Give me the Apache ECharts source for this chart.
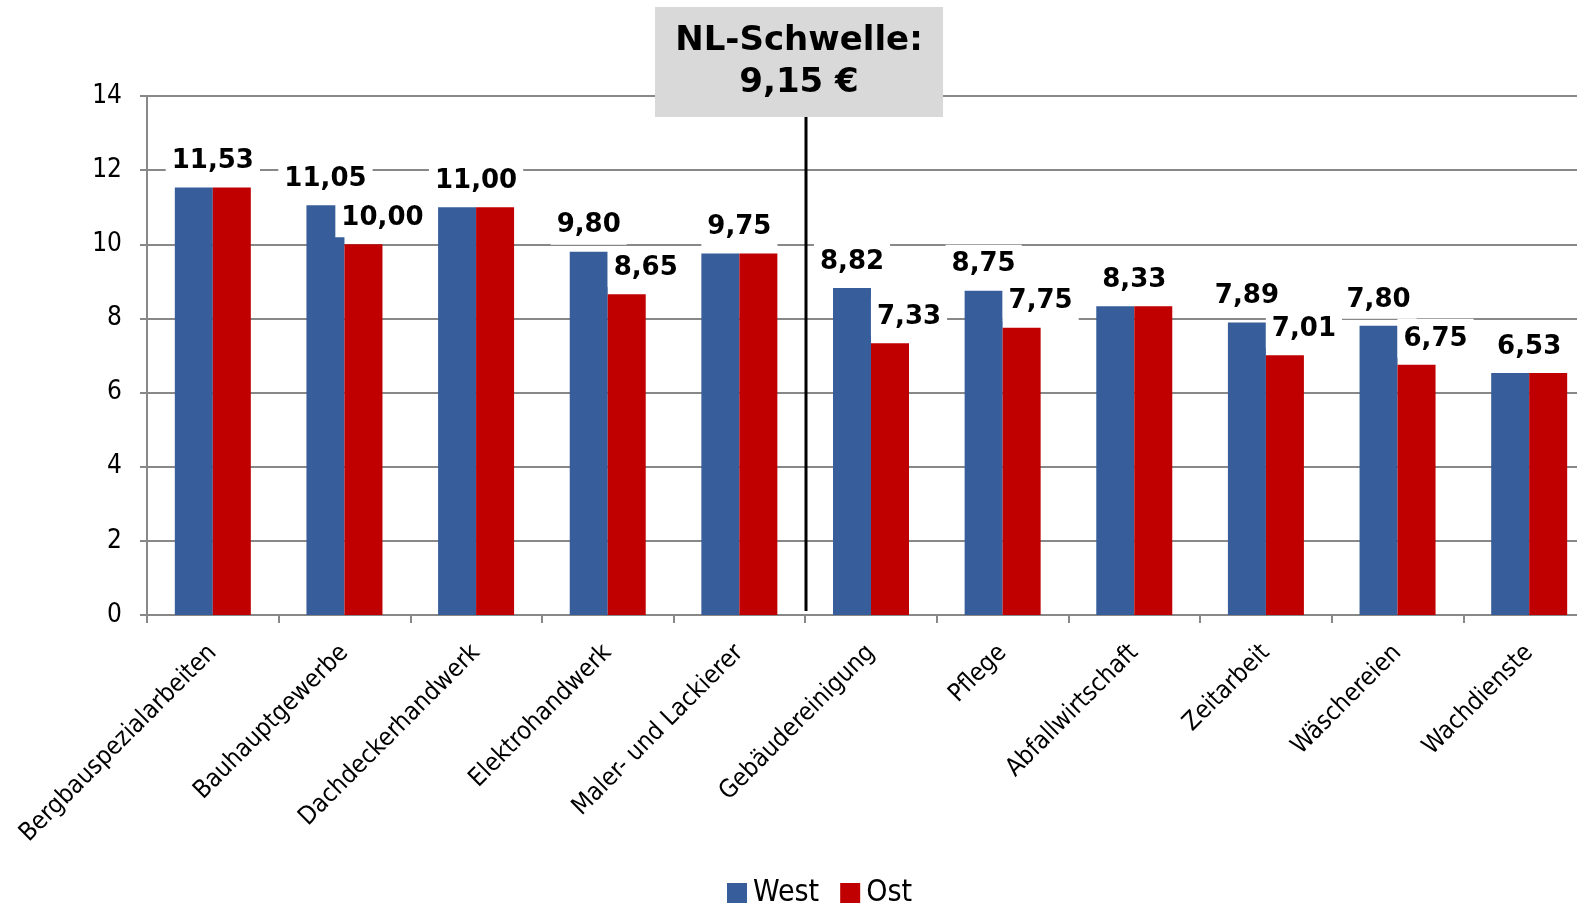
<!DOCTYPE html>
<html>
<head>
<meta charset="utf-8">
<script src="https://cdn.jsdelivr.net/npm/echarts@6/dist/echarts.min.js"></script>
<style>
  html, body { margin: 0; padding: 0; background: #fff; overflow: hidden; }
  /* the plot runs slightly past the right window edge */
  #chart { width: 1600px; height: 907px; }
</style>
</head>
<body>
<div id="chart"></div>
<script>
// Mindestlöhne nach Branchen, West und Ost (€ pro Stunde)
const categories = [
  'Bergbauspezialarbeiten', 'Bauhauptgewerbe', 'Dachdeckerhandwerk', 'Elektrohandwerk',
  'Maler- und Lackierer', 'Gebäudereinigung', 'Pflege', 'Abfallwirtschaft',
  'Zeitarbeit', 'Wäschereien', 'Wachdienste'
];
const westValues = [11.53, 11.05, 11.00, 9.80, 9.75, 8.82, 8.75, 8.33, 7.89, 7.80, 6.53];
const ostValues  = [11.53, 10.00, 11.00, 8.65, 9.75, 7.33, 7.75, 8.33, 7.01, 6.75, 6.53];
const yTicks = { min: 0, max: 14, interval: 2 };
const thresholdText = ['NL-Schwelle:', '9,15 €'];
// the threshold line sits between these two categories
const thresholdBetween = ['Maler- und Lackierer', 'Gebäudereinigung'];

const BLUE = '#375E9A';
const RED = '#C00000';
const GRID_GRAY = '#888888';
const AXIS_FONT = "'DejaVu Sans Condensed', 'DejaVu Sans', sans-serif";
const LABEL_FONT = "'DejaVu Sans', Verdana, sans-serif";

const fmt = v => v.toFixed(2).replace('.', ',');
const BAR_W = 38;

const labelBase = {
  show: true,
  position: 'top',
  distance: 7,
  fontFamily: LABEL_FONT,
  fontWeight: 'bold',
  fontSize: 26,
  lineHeight: 26,
  color: '#000',
  backgroundColor: '#fff',
  padding: [7, 6, 6, 6],
  formatter: p => fmt(p.value)
};

// When both regions share a value, a single label is centred over the pair
const westData = westValues.map((v, i) => {
  const same = v === ostValues[i];
  return { value: v, label: { offset: same ? [BAR_W / 2, 0] : [0, 0] } };
});
const ostData = ostValues.map((v, i) => {
  const same = v === westValues[i];
  return { value: v, label: { show: !same, offset: [19, 0] } };
});

const chart = echarts.init(document.getElementById('chart'), null, { renderer: 'canvas' });

chart.setOption({
  animation: false,
  backgroundColor: '#fff',
  grid: { left: 147, top: 96, width: 1448, height: 519 },
  legend: {
    data: ['West', 'Ost'],
    top: 873,
    left: 722,
    itemWidth: 20,
    itemHeight: 20,
    itemGap: 21,
    icon: 'rect',
    textStyle: { fontFamily: AXIS_FONT, fontSize: 30, color: '#000', padding: [0, 0, 0, 1] }
  },
  xAxis: {
    type: 'category',
    data: categories,
    axisLine: { lineStyle: { color: GRID_GRAY, width: 2 } },
    axisTick: { show: true, length: 8, lineStyle: { color: GRID_GRAY, width: 2 } },
    axisLabel: {
      rotate: 45,
      interval: 0,
      margin: 34,
      fontFamily: AXIS_FONT,
      fontSize: 25,
      color: '#000'
    }
  },
  yAxis: {
    type: 'value',
    min: yTicks.min,
    max: yTicks.max,
    interval: yTicks.interval,
    axisLine: { show: true, lineStyle: { color: GRID_GRAY, width: 2 } },
    axisTick: { show: true, length: 7, lineStyle: { color: GRID_GRAY, width: 2 } },
    axisLabel: { margin: 25, fontFamily: AXIS_FONT, fontSize: 26, color: '#000' },
    splitLine: { lineStyle: { color: GRID_GRAY, width: 2 } }
  },
  series: [
    {
      name: 'West', type: 'bar', data: westData, barWidth: BAR_W, barGap: '0%',
      itemStyle: { color: BLUE }, label: labelBase
    },
    {
      name: 'Ost', type: 'bar', data: ostData, barWidth: BAR_W, barGap: '0%',
      itemStyle: { color: RED }, label: labelBase
    }
  ]
});

// Threshold marker: a vertical rule on the boundary between two categories,
// topped by a grey caption box.
function drawThreshold() {
  const a = chart.convertToPixel({ xAxisIndex: 0 }, thresholdBetween[0]);
  const b = chart.convertToPixel({ xAxisIndex: 0 }, thresholdBetween[1]);
  const x = Math.round((a + b) / 2) + 1;
  const yBottom = chart.convertToPixel({ yAxisIndex: 0 }, yTicks.min) - 4;
  const boxW = 288, boxH = 110, boxTop = 7, boxLeft = x - 151;
  chart.setOption({
    graphic: [
      {
        type: 'line', z: 100,
        shape: { x1: x, y1: boxTop + boxH, x2: x, y2: yBottom },
        style: { stroke: '#000', lineWidth: 3 }
      },
      {
        type: 'rect', z: 101,
        shape: { x: boxLeft, y: boxTop, width: boxW, height: boxH },
        style: { fill: '#D9D9D9' }
      },
      {
        type: 'text', z: 102,
        x: boxLeft + boxW / 2, y: boxTop + boxH / 2,
        style: {
          text: thresholdText.join('\n'),
          fontFamily: LABEL_FONT,
          fontWeight: 'bold',
          fontSize: 34,
          lineHeight: 42,
          fill: '#000',
          align: 'center',
          verticalAlign: 'middle'
        }
      }
    ]
  });
}
drawThreshold();
</script>
</body>
</html>
